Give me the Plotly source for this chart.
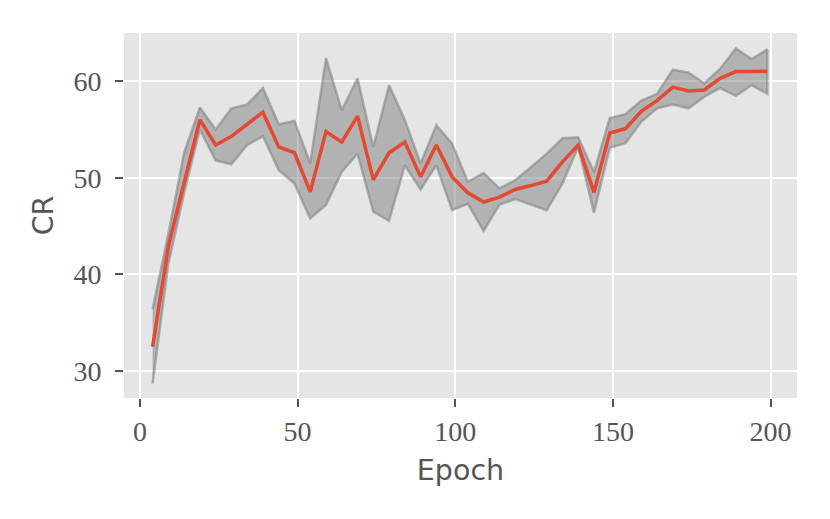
import plotly.graph_objects as go

epochs = list(range(4, 200, 5))
cr_mean = [32.5, 42.9, 49.5, 56.0, 53.4, 54.3, 55.55, 56.8, 53.2, 52.6,
           48.55, 54.8, 53.7, 56.4, 49.8, 52.6, 53.7, 50.1, 53.4, 50.1,
           48.45, 47.5, 48.0, 48.8, 49.2, 49.65, 51.65, 53.4, 48.5, 54.65,
           55.1, 56.9, 58.0, 59.4, 59.0, 59.1, 60.3, 61.0, 61.0, 61.05]
cr_upper = [36.4, 44.2, 52.6, 57.3, 55.0, 57.2, 57.6, 59.3, 55.55, 55.9,
            51.5, 62.4, 57.0, 60.3, 53.2, 59.6, 56.0, 51.5, 55.45, 53.55,
            49.6, 50.5, 48.9, 49.75, 51.1, 52.5, 54.1, 54.2, 50.6, 56.2,
            56.6, 58.0, 58.7, 61.2, 60.9, 59.8, 61.3, 63.4, 62.3, 63.3]
cr_lower = [28.7, 41.1, 48.4, 55.0, 51.8, 51.4, 53.4, 54.3, 50.8, 49.4,
            45.8, 47.2, 50.6, 52.5, 46.5, 45.55, 51.3, 48.8, 51.3, 46.65,
            47.3, 44.5, 47.2, 47.8, 47.2, 46.65, 49.4, 53.2, 46.4, 53.1,
            53.6, 55.8, 57.2, 57.6, 57.2, 58.4, 59.3, 58.5, 59.6, 58.7]
x_ticks = [0, 50, 100, 150, 200]
y_ticks = [30, 40, 50, 60]

band_x = epochs + epochs[::-1]
band_y = cr_upper + cr_lower[::-1]

fig = go.Figure()
fig.add_trace(go.Scatter(
    x=band_x, y=band_y, mode="lines", fill="toself",
    fillcolor="rgba(128,128,128,0.5)",
    line=dict(color="rgba(128,128,128,0.55)", width=2.5),
    hoverinfo="skip", showlegend=False))
fig.add_trace(go.Scatter(
    x=epochs, y=cr_mean, mode="lines",
    line=dict(color="#E24A33", width=3.5),
    showlegend=False))

tick_font = dict(family="Liberation Serif", size=28, color="#555555")
title_font = dict(family="DejaVu Sans", size=28.5, color="#555555")

fig.update_layout(
    width=822, height=511,
    margin=dict(l=116, r=33, t=25, b=121),
    paper_bgcolor="white", plot_bgcolor="#E5E5E5",
    xaxis=dict(range=[-5.07, 208.4], tickvals=x_ticks,
               ticktext=[str(v) for v in x_ticks],
               showgrid=True, gridcolor="white", gridwidth=1.8,
               zeroline=False, ticks="outside", ticklen=8, tickwidth=1.5,
               tickcolor="#555555", tickfont=tick_font,
               title=dict(text="Epoch", font=title_font, standoff=14)),
    yaxis=dict(range=[27.2, 65.0], tickvals=y_ticks,
               ticktext=[str(v) for v in y_ticks],
               showgrid=True, gridcolor="white", gridwidth=1.8,
               zeroline=False, ticks="outside", ticklen=8, tickwidth=1.5,
               tickcolor="#555555", tickfont=tick_font, ticklabelstandoff=8,
               title=dict(text="CR", font=title_font, standoff=11)),
)

fig.write_html("out.html")
